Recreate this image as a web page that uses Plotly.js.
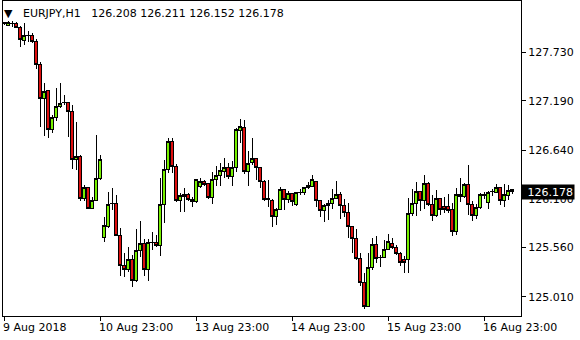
<!DOCTYPE html>
<html><head><meta charset="utf-8">
<script src="https://cdn.plot.ly/plotly-3.0.1.min.js"></script>
<style>html,body{margin:0;padding:0;background:#fff;}#chart{width:580px;height:340px;}
#chart .boxlayer path{shape-rendering:crispEdges;}</style>
</head><body><div id="chart"></div>
<script>
const symbol = 'EURJPY,H1';
const tickIndex = [0, 24, 48, 72, 96, 120];
const tickLabels = ['9 Aug 2018', '10 Aug 23:00', '13 Aug 23:00', '14 Aug 23:00', '15 Aug 23:00', '16 Aug 23:00'];
const priceTicks = [127.730, 127.190, 126.640, 126.100, 125.560, 125.010];

const open = [128.050,128.030,128.051,128.053,128.008,127.859,127.922,127.922,127.848,127.589,
127.218,127.300,126.874,127.007,127.125,127.169,127.169,127.069,126.540,126.569,
126.106,126.224,125.995,126.079,126.328,125.672,125.790,126.050,126.050,125.690,
125.356,125.316,125.428,125.197,125.531,125.605,125.316,125.617,125.617,125.579,
126.039,126.429,126.743,126.465,126.079,126.124,126.150,126.095,126.073,126.235,
126.298,126.273,126.113,126.317,126.357,126.406,126.451,126.346,126.451,126.858,
126.896,126.402,126.502,126.551,126.451,126.291,126.106,126.087,125.901,125.984,
126.206,126.095,126.162,126.032,126.171,126.168,126.224,126.235,126.291,126.079,
125.976,126.024,126.050,126.106,126.154,126.024,125.946,125.790,125.661,125.439,
125.167,124.908,125.338,125.594,125.449,125.450,125.539,125.605,125.561,125.494,
125.420,125.420,125.939,126.050,126.187,126.079,126.273,126.035,125.912,126.106,
126.013,126.013,125.984,125.735,126.124,126.124,126.265,126.032,125.920,126.002,
126.135,126.057,126.178,126.173,126.228,126.079,126.135,126.208];

const high = [128.070,128.078,128.078,128.070,128.023,128.053,127.970,127.948,127.875,127.625,
127.385,127.311,127.033,127.330,127.385,127.255,127.181,127.144,126.958,126.588,
126.254,126.235,126.124,126.810,126.588,125.901,126.179,126.217,126.143,125.772,
125.494,125.561,125.475,125.761,125.857,125.650,125.650,125.735,125.698,126.328,
126.532,126.780,126.773,126.487,126.168,126.221,126.168,126.124,126.317,126.328,
126.310,126.276,126.402,126.465,126.495,126.551,126.502,126.521,126.885,126.985,
126.977,126.632,126.773,126.554,126.455,126.310,126.310,126.095,125.995,126.235,
126.209,126.190,126.165,126.179,126.206,126.235,126.291,126.365,126.302,126.087,
126.039,126.087,126.206,126.298,126.179,126.098,126.057,125.795,125.764,125.494,
125.272,125.494,125.661,125.690,125.475,125.642,125.709,125.668,125.587,125.512,
125.468,126.106,126.209,126.284,126.190,126.365,126.284,126.143,126.198,126.113,
126.124,126.154,126.050,126.217,126.328,126.280,126.476,126.079,126.043,126.162,
126.179,126.187,126.209,126.265,126.232,126.265,126.254,126.211];

const low = [128.034,128.023,128.015,127.997,127.792,127.811,127.848,127.830,127.541,126.902,
126.799,126.773,126.836,126.969,127.107,127.144,126.785,126.429,126.421,126.079,
126.079,125.993,125.993,126.077,126.310,125.617,125.772,125.976,125.687,125.242,
125.234,125.290,125.123,125.178,125.456,125.242,125.190,125.531,125.568,125.464,
125.835,126.391,126.391,126.068,125.957,125.957,126.079,126.013,126.050,126.217,
126.243,126.098,126.039,126.246,126.246,126.328,126.321,126.246,126.402,126.724,
126.376,126.246,126.476,126.310,126.217,126.079,126.006,125.790,125.809,125.976,
125.976,126.057,126.020,126.020,126.143,126.143,126.206,126.228,126.006,125.901,
125.846,125.865,125.987,126.098,125.872,125.901,125.668,125.501,125.420,125.131,
124.875,124.900,125.309,125.383,125.345,125.439,125.531,125.539,125.475,125.356,
125.272,125.279,125.912,125.912,125.968,125.987,126.020,125.857,125.901,125.920,
125.939,125.939,125.687,125.698,126.062,126.113,125.920,125.857,125.876,125.987,
126.095,125.987,126.135,126.162,126.032,126.013,126.087,126.152];

const close = [128.056,128.059,128.054,128.008,127.867,127.922,127.920,127.848,127.589,127.218,
127.292,126.874,127.007,127.125,127.163,127.172,127.069,126.540,126.569,126.106,
126.224,125.995,126.079,126.328,126.540,125.809,126.039,126.052,125.690,125.356,
125.316,125.428,125.197,125.531,125.605,125.316,125.617,125.619,125.579,126.039,
126.429,126.743,126.465,126.079,126.132,126.150,126.095,126.073,126.310,126.298,
126.262,126.113,126.317,126.365,126.410,126.451,126.346,126.451,126.866,126.902,
126.402,126.495,126.551,126.446,126.291,126.098,126.095,125.901,125.984,126.206,
126.095,126.162,126.068,126.168,126.174,126.228,126.243,126.310,126.079,125.976,
126.028,126.050,126.106,126.154,126.024,125.946,125.790,125.661,125.439,125.167,
124.908,125.338,125.594,125.439,125.451,125.539,125.623,125.556,125.494,125.394,
125.394,125.939,126.050,126.187,126.079,126.273,126.035,125.912,126.106,125.987,
125.987,125.976,125.735,126.143,126.143,126.265,126.032,125.912,126.006,126.143,
126.154,126.173,126.180,126.228,126.079,126.143,126.198,126.178];

const idx = open.map((_, i) => i);
const n = open.length;
const last = n - 1;
const FONT = 'DejaVu Sans, Verdana, sans-serif';

const trace = {
  type: 'candlestick',
  x: idx, open: open, high: high, low: low, close: close,
  increasing: {line: {color: '#000000', width: 1}, fillcolor: '#76f000'},
  decreasing: {line: {color: '#000000', width: 1}, fillcolor: '#dd0f0f'},
  whiskerwidth: 0,
  hoverinfo: 'skip'
};

const fmt = v => v.toFixed(3);

const annotations = tickIndex.map((t, k) => ({
  x: t, xref: 'x', y: 0, yref: 'paper', yanchor: 'top', xanchor: 'left',
  xshift: -3, yshift: -3, showarrow: false, text: tickLabels[k],
  font: {family: FONT, size: 11, color: '#000'}
}));
annotations.push({
  x: 1, xref: 'paper', y: close[last], yref: 'y', xanchor: 'left', yanchor: 'middle',
  showarrow: false, text: fmt(close[last]), bgcolor: '#000000', borderpad: 1,
  width: 50, height: 12, align: 'right',
  font: {family: FONT, size: 11, color: '#ffffff'}
});

const layout = {
  width: 580, height: 340,
  margin: {l: 3, r: 59, t: 1, b: 24, pad: 0},
  paper_bgcolor: '#ffffff', plot_bgcolor: '#ffffff',
  showlegend: false,
  boxgap: 0.25,
  title: {
    text: '\u25BC\u00a0\u00a0 ' + symbol + '\u00a0\u00a0 ' + [open[last], high[last], low[last], close[last]].map(fmt).join(' '),
    x: 4 / 580, xanchor: 'left', xref: 'container',
    y: 1 - 13 / 340, yanchor: 'middle', yref: 'container',
    font: {family: FONT, size: 11, color: '#000'}
  },
  xaxis: {
    range: [-0.25, 129.25], showgrid: false, zeroline: false,
    showline: true, linecolor: '#000', linewidth: 1, mirror: true,
    tickmode: 'array', tickvals: tickIndex, ticktext: tickIndex.map(() => ''),
    ticks: 'outside', ticklen: 4, tickcolor: '#000', tickwidth: 1,
    showticklabels: false,
    rangeslider: {visible: false}, fixedrange: true
  },
  yaxis: {
    side: 'right', range: [124.797, 128.3006], showgrid: false, zeroline: false,
    showline: true, linecolor: '#000', linewidth: 1, mirror: true,
    tickmode: 'array', tickvals: priceTicks, ticktext: priceTicks.map(fmt),
    ticks: 'outside', ticklen: 4, tickcolor: '#000', tickwidth: 1,
    tickfont: {family: FONT, size: 11, color: '#000'}, fixedrange: true
  },
  annotations: annotations
};

Plotly.newPlot('chart', [trace], layout, {displayModeBar: false, staticPlot: true});
</script>
</body></html>
